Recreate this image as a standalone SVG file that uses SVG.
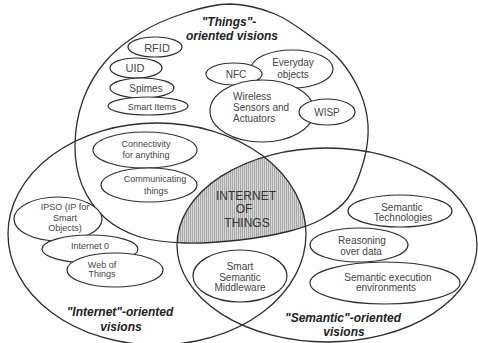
<svg xmlns="http://www.w3.org/2000/svg" width="478" height="343" viewBox="0 0 478 343">
<defs>
<pattern id="hatch" width="2" height="4" patternUnits="userSpaceOnUse"><rect width="2" height="4" fill="#d6d6d6"/><rect width="1" height="4" fill="#a8a8a8"/></pattern>
<clipPath id="clipI"><ellipse cx="157" cy="234" rx="149" ry="111"/></clipPath>
<clipPath id="clipS"><ellipse cx="327" cy="245" rx="150" ry="97"/></clipPath>
<path id="thingsShape" d="M230,4 C245,4.2 261.2,8.3 275,14 C288.8,19.7 302.2,30.3 313,38 C323.8,45.7 332.2,51 340,60 C347.8,69 355.3,81.2 360,92 C364.7,102.8 367.3,113.7 368,125 C368.7,136.3 367.3,147.8 364,160 C360.7,172.2 355,188.2 348,198 C341,207.8 331.7,213.5 322,219 C312.3,224.5 303.7,227.5 290,231 C276.3,234.5 257.5,238 240,240 C222.5,242 201.7,243.5 185,243 C168.3,242.5 153.3,241.2 140,237 C126.7,232.8 114.7,226.7 105,218 C95.3,209.3 87,197.2 82,185 C77,172.8 74.8,159.2 75,145 C75.2,130.8 78,113.8 83,100 C88,86.2 95.5,73.2 105,62 C114.5,50.8 126.7,41.2 140,33 C153.3,24.8 170,17.8 185,13 C200,8.2 215,4 230,4 Z"/>
</defs>
<style>
.big{fill:none;stroke:#2e2e2e;stroke-width:1.3}
.n{fill:#fff;stroke:#2e2e2e;stroke-width:1.2}
.t{font-family:"Liberation Sans",Arial,sans-serif;font-size:10px;fill:#444;text-anchor:middle}
.s{font-size:9px}
.l{font-size:11px}
.h{font-family:"Liberation Sans",Arial,sans-serif;font-size:12px;font-weight:bold;font-style:italic;fill:#222;text-anchor:middle}
.c{font-family:"Liberation Sans",Arial,sans-serif;font-size:12px;fill:#333;text-anchor:middle}
</style>
<rect width="478" height="343" fill="#fff"/>
<g id="iot">
<g clip-path="url(#clipS)"><use href="#thingsShape" fill="url(#hatch)" clip-path="url(#clipI)"/></g>
</g>
<g id="things-vision">
<use href="#thingsShape" class="big"/>
<text class="h" x="229" y="26">"Things"-</text>
<text class="h" x="232" y="40">oriented visions</text>
</g>
<g id="internet-vision">
<ellipse class="big" cx="157" cy="234" rx="149" ry="111"/>
<text class="h" x="120" y="316">"Internet"-oriented</text>
<text class="h" x="121" y="331">visions</text>
</g>
<g id="semantic-vision">
<ellipse class="big" cx="327" cy="245" rx="150" ry="97"/>
<text class="h" x="343" y="322">"Semantic"-oriented</text>
<text class="h" x="344" y="336">visions</text>
</g>
<g id="iot-label">
<text class="c" x="246" y="200">INTERNET</text>
<text class="c" x="244" y="213">OF</text>
<text class="c" x="247" y="227">THINGS</text>
</g>
<g id="connectors"></g>
<g id="rfid"><ellipse class="n" cx="155" cy="47" rx="27" ry="10"/><text class="t l" x="157" y="51.5">RFID</text></g>
<g id="uid"><ellipse class="n" cx="136" cy="68" rx="26" ry="10"/><text class="t l" x="135" y="72">UID</text></g>
<g id="spimes"><ellipse class="n" cx="142" cy="88" rx="32" ry="10"/><text class="t" x="146" y="91.5">Spimes</text></g>
<g id="smart-items"><ellipse class="n" cx="148" cy="106" rx="40" ry="9"/><text class="t s" x="152" y="109.5">Smart Items</text></g>
<g id="everyday"><ellipse class="n" cx="292" cy="69" rx="41" ry="19"/><text class="t" x="293" y="66">Everyday</text><text class="t" x="293" y="78">objects</text></g>
<g id="nfc"><ellipse class="n" cx="234" cy="74" rx="28" ry="11"/><text class="t" x="236" y="77.5">NFC</text></g>
<g id="wireless"><ellipse class="n" cx="262" cy="111" rx="52" ry="31"/><text class="t" x="233" y="100" style="text-anchor:start">Wireless</text><text class="t" x="233" y="111" style="text-anchor:start">Sensors and</text><text class="t" x="233" y="122" style="text-anchor:start">Actuators</text></g>
<g id="wisp"><ellipse class="n" cx="327" cy="112" rx="28" ry="13"/><text class="t" x="327" y="116">WISP</text></g>
<g id="connectivity"><ellipse class="n" cx="145" cy="150" rx="52" ry="18"/><text class="t s" x="146" y="147">Connectivity</text><text class="t s" x="146" y="158">for anything</text></g>
<g id="communicating"><ellipse class="n" cx="149" cy="185" rx="48" ry="17"/><text class="t s" x="155" y="182">Communicating</text><text class="t s" x="156" y="194">things</text></g>
<g id="ipso"><ellipse class="n" cx="58" cy="219" rx="44" ry="22"/><text class="t s" x="65" y="210">IPSO (IP for</text><text class="t s" x="65" y="221">Smart</text><text class="t s" x="65" y="231">Objects)</text></g>
<g id="internet0"><ellipse class="n" cx="90" cy="249" rx="48" ry="14"/><text class="t s" x="90" y="249">Internet 0</text></g>
<g id="web-of-things"><ellipse class="n" cx="115" cy="270" rx="48" ry="17"/><text class="t s" x="102" y="268">Web of</text><text class="t s" x="102" y="277">Things</text></g>
<g id="middleware"><ellipse class="n" cx="240" cy="276" rx="47" ry="26"/><text class="t" x="240" y="270">Smart</text><text class="t" x="240" y="281">Semantic</text><text class="t" x="240" y="291">Middleware</text></g>
<g id="sem-tech"><ellipse class="n" cx="400" cy="211" rx="52" ry="16"/><text class="t" x="402" y="211">Semantic</text><text class="t" x="403" y="221">Technologies</text></g>
<g id="reasoning"><ellipse class="n" cx="359" cy="245" rx="49" ry="17"/><text class="t" x="362" y="244">Reasoning</text><text class="t" x="361" y="255">over data</text></g>
<g id="sem-exec"><ellipse class="n" cx="385" cy="283" rx="75" ry="21"/><text class="t" x="388" y="281">Semantic execution</text><text class="t" x="386" y="291">environments</text></g>
</svg>
